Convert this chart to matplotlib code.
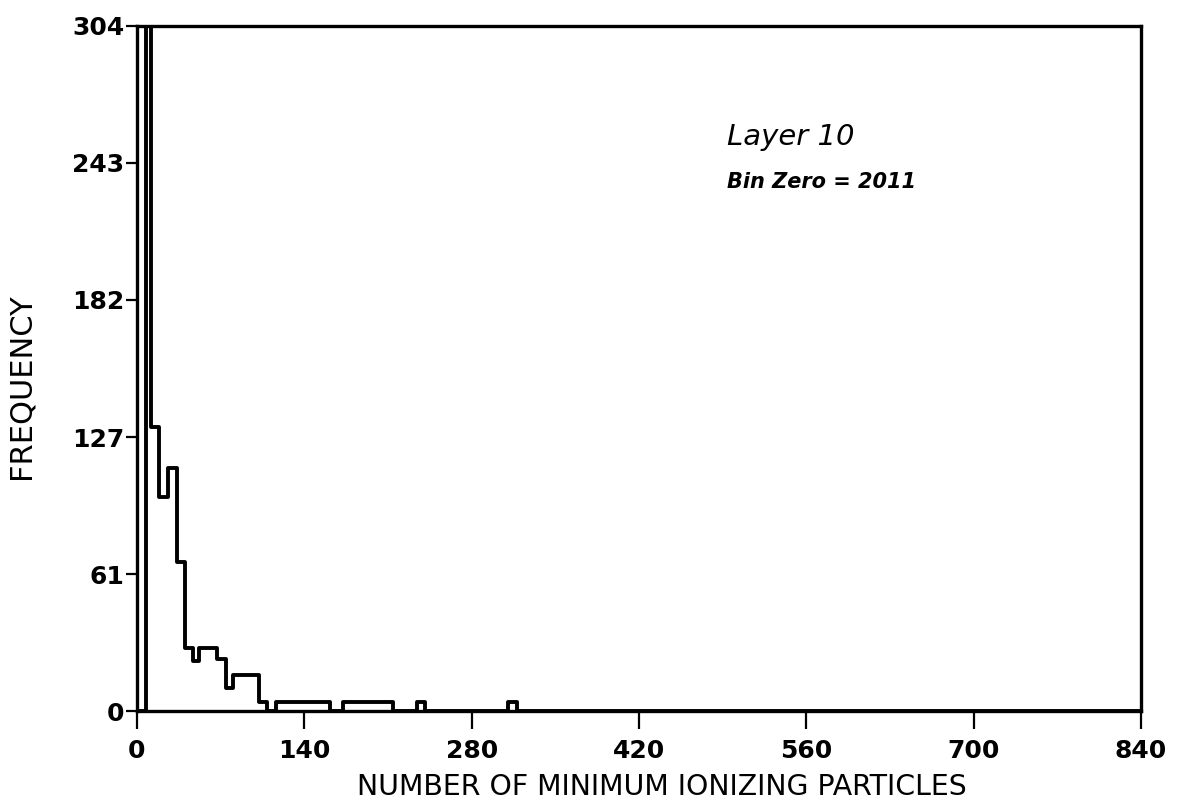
import numpy as np
import matplotlib
matplotlib.use("Agg")
import matplotlib.pyplot as plt

# Histogram (bin edges in particles, counts clipped at 304)
edges = [0, 7.5, 12.1, 18.0, 25.9, 33.1, 40.2, 46.6, 52.1, 66.7, 74.5, 80.6,
         102.3, 108.5, 116.3, 161.5, 172.6, 214.5, 234.0, 241.0, 310.5, 317.7, 840]
counts = [0, 304, 126, 95, 108, 66, 28, 22, 28, 23, 10, 16,
          4, 0, 4, 0, 4, 0, 4, 0, 4, 0]

xticks = [0, 140, 280, 420, 560, 700, 840]
yticks = np.linspace(0, 304, 6)
ytick_labels = ['0', '61', '127', '182', '243', '304']

fig = plt.figure(figsize=(11.83, 8.09), dpi=100)
ax = fig.add_axes([0.1158, 0.1211, 0.8487, 0.8468])

sp = ax.stairs(counts, edges, color='k', linewidth=2.8, baseline=0)
sp.set_joinstyle('round')
sp.set_capstyle('round')

ax.set_xlim(0, 840)
ax.set_ylim(0, 304)
ax.set_xticks(xticks)
ax.set_xticklabels([str(t) for t in xticks])
ax.set_yticks(yticks)
ax.set_yticklabels(ytick_labels)

for s in ax.spines.values():
    s.set_linewidth(2.4)
ax.tick_params(axis='x', direction='out', length=13, width=1.6, pad=7,
               labelsize=18)
ax.tick_params(axis='y', direction='out', length=8, width=1.6, pad=1,
               labelsize=18)
for lab in ax.get_xticklabels() + ax.get_yticklabels():
    lab.set_fontweight('bold')

fig.text(0.5596, 0.0272, 'NUMBER OF MINIMUM IONIZING PARTICLES',
         ha='center', va='center', fontsize=20.4)
fig.text(0.0178, 0.523, 'FREQUENCY', rotation=90,
         ha='center', va='center', fontsize=22)

ax.text(494, 251, 'Layer 10', fontsize=21, style='italic',
        ha='left', va='baseline')
ax.text(494, 232, 'Bin Zero = 2011', fontsize=15, style='italic',
        fontweight='bold', ha='left', va='baseline')

fig.savefig('out.png', dpi=100)
